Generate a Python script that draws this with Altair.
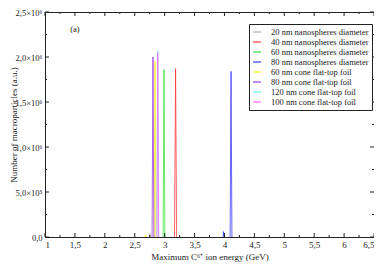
import altair as alt
import pandas as pd

# ---- data ----
series_names = [
    "20 nm nanospheres diameter",
    "40 nm nanospheres diameter",
    "60 nm nanospheres diameter",
    "80 nm nanospheres diameter",
    "60 nm cone flat-top foil",
    "80 nm cone flat-top foil",
    "120 nm cone flat-top foil",
    "100 nm cone flat-top foil",
]
series_colors = ["#a8a8a8", "#ff3030", "#30e030", "#3030ff", "#f0f000", "#9a30e0", "#60f0e0", "#ff60ff"]

# spike points (energy GeV, macroparticles)
s20_x = [2.74, 2.755, 2.77];  s20_y = [0, 40000, 0]
s40_x = [3.165, 3.183, 3.20]; s40_y = [0, 1870000, 0]
s60_x = [2.975, 2.99, 3.005]; s60_y = [0, 1860000, 0]
s80_x = [4.095, 4.11, 4.125]; s80_y = [0, 1840000, 0]
s80b_x = [3.975, 3.985, 3.995]; s80b_y = [0, 60000, 0]
c60_x = [2.825, 2.84, 2.855]; c60_y = [0, 1950000, 0]
c60b_x = [2.67, 2.68, 2.69];  c60b_y = [0, 20000, 0]
c80_x = [2.79, 2.805, 2.82];  c80_y = [0, 2000000, 0]
c120_x = [2.87, 2.885, 2.90]; c120_y = [0, 2070000, 0]
c100_x = [2.87, 2.885, 2.90]; c100_y = [0, 2050000, 0]

x_major = [1, 1.5, 2, 2.5, 3, 3.5, 4, 4.5, 5, 5.5, 6, 6.5]
x_labels = ["1", "1,5", "2", "2,5", "3", "3,5", "4", "4,5", "5", "5,5", "6", "6,5"]
x_minor = [1.25, 1.75, 2.25, 2.75, 3.25, 3.75, 4.25, 4.75, 5.25, 5.75, 6.25]
y_major = [0, 500000, 1000000, 1500000, 2000000, 2500000]
y_minor = [250000, 750000, 1250000, 1750000, 2250000]
y_labels = ["0,0", "5,0×10⁵", "1,0×10⁶", "1,5×10⁶", "2,0×10⁶", "2,5×10⁶"]

rows = []
def add(name, seg, xs, ys):
    for x, y in zip(xs, ys):
        rows.append({"series": name, "seg": seg, "x": x, "y": y})

add(series_names[0], "a", s20_x, s20_y)
add(series_names[1], "a", s40_x, s40_y)
add(series_names[2], "a", s60_x, s60_y)
add(series_names[3], "a", s80_x, s80_y)
add(series_names[3], "b", s80b_x, s80b_y)
add(series_names[4], "a", c60_x, c60_y)
add(series_names[4], "b", c60b_x, c60b_y)
add(series_names[5], "a", c80_x, c80_y)
add(series_names[6], "a", c120_x, c120_y)
add(series_names[7], "a", c100_x, c100_y)
df = pd.DataFrame(rows)

W, H = 329, 225
FONT = "Liberation Serif"

xscale = alt.Scale(domain=[1, 6.5], nice=False, zero=False)
yscale = alt.Scale(domain=[0, 2500000], nice=False)

def expr_for(vals, labels):
    e = ""
    for v, l in zip(vals, labels):
        e += f"abs(datum.value - {v}) < 1e-6 * max(1, {v}) ? '{l}' : "
    return e + "''"

x_axis = alt.Axis(values=x_major, labelExpr=expr_for(x_major, x_labels),
                  ticks=False, domain=False, grid=False, labelFont=FONT, labelFontSize=9,
                  labelColor="#222", labelPadding=3, labelOverlap=False,
                  title="Maximum C⁶⁺ ion energy (GeV)",
                  titleFont=FONT, titleFontSize=9, titleFontWeight="normal",
                  titleColor="#222", titlePadding=3)
y_axis = alt.Axis(values=y_major, labelExpr=expr_for(y_major, y_labels), ticks=False,
                  domain=False, grid=False,
                  labelFont=FONT, labelFontSize=8.5, labelColor="#222", labelPadding=3,
                  labelOverlap=False,
                  title="Number of macroparticles (a.u.)", titleFont=FONT, titleFontSize=9,
                  titleFontWeight="normal", titleColor="#222",
                  titleX=-32, titleY=H / 2, titleBaseline="middle", titleAlign="center")

lines = alt.Chart(df).mark_line(strokeWidth=1, opacity=0.75).encode(
    x=alt.X("x:Q", scale=xscale, axis=x_axis),
    y=alt.Y("y:Q", scale=yscale, axis=y_axis),
    color=alt.Color("series:N", scale=alt.Scale(domain=series_names, range=series_colors),
                    legend=alt.Legend(orient="none", legendX=204, legendY=12, title=None,
                                      symbolType="stroke", symbolSize=64, symbolStrokeWidth=1.5,
                                      symbolOpacity=0.75,
                                      labelFont=FONT, labelFontSize=8.5, labelColor="#222",
                                      labelOffset=9, rowPadding=0, clipHeight=10,
                                      labelExpr="datum.label + '\u00a0\u00a0\u00a0\u00a0\u00a0'",
                                      strokeColor="#222", fillColor="white", padding=3,
                                      labelLimit=200)),
    detail="seg:N",
)

xmaj = pd.DataFrame({"v": x_major})
xmin = pd.DataFrame({"v": x_minor})
ymaj = pd.DataFrame({"v": y_major})
ymin = pd.DataFrame({"v": y_minor})

def xticks(d, L):
    b = alt.Chart(d).mark_rule(color="#222", strokeWidth=1).encode(
        x=alt.X("v:Q", scale=xscale, axis=x_axis), y=alt.value(H), y2=alt.value(H - L))
    t = alt.Chart(d).mark_rule(color="#222", strokeWidth=1).encode(
        x=alt.X("v:Q", scale=xscale, axis=x_axis), y=alt.value(0), y2=alt.value(L))
    return b + t

def yticks(d, L):
    l = alt.Chart(d).mark_rule(color="#222", strokeWidth=1).encode(
        y=alt.Y("v:Q", scale=yscale, axis=y_axis), x=alt.value(0), x2=alt.value(L))
    r = alt.Chart(d).mark_rule(color="#222", strokeWidth=1).encode(
        y=alt.Y("v:Q", scale=yscale, axis=y_axis), x=alt.value(W), x2=alt.value(W - L))
    return l + r

annot = alt.Chart(pd.DataFrame({"x": [1.5], "y": [2310000], "t": ["(a)"]})).mark_text(
    font=FONT, fontSize=8.5, color="#222").encode(
    x=alt.X("x:Q", scale=xscale, axis=x_axis), y=alt.Y("y:Q", scale=yscale, axis=y_axis),
    text="t:N")

chart = alt.layer(
    lines, xticks(xmaj, 4), xticks(xmin, 2), yticks(ymaj, 4), yticks(ymin, 2), annot
).properties(
    width=W, height=H, autosize="none",
    padding={"left": 37, "top": 4, "right": 0, "bottom": 29},
).configure_view(stroke="#222", strokeWidth=1)

chart.save("out.html", embed_options={"renderer": "svg", "actions": False})
